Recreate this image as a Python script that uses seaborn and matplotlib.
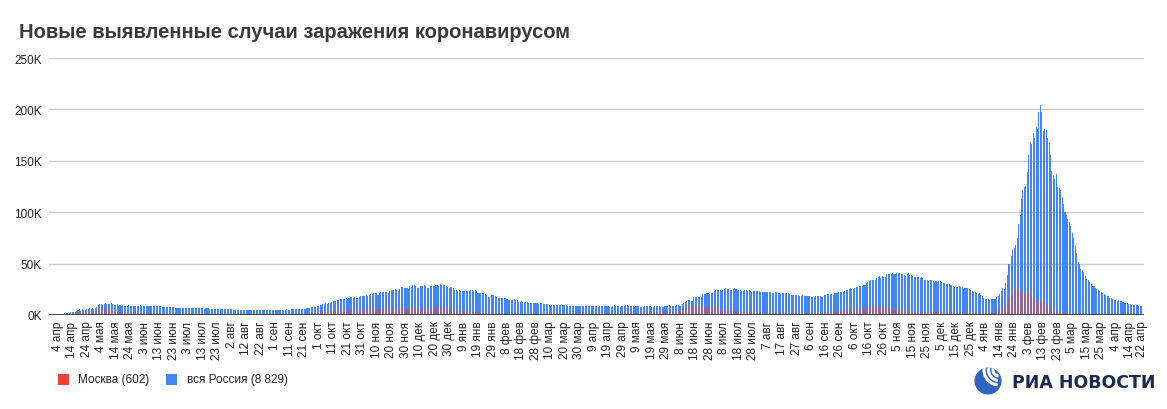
import numpy as np
import pandas as pd
import matplotlib
matplotlib.use("Agg")
import matplotlib.pyplot as plt
import seaborn as sns
from matplotlib.patches import Circle, Arc, Rectangle

# ---------------- data (thousands of new cases per day, from 4 Apr 2020) ----------------
russia_2020 = [
    # Apr 4-30
    0.6,0.7,1.0,1.2,1.2,1.5,1.8,1.7,2.2,2.6, 2.8,3.4,3.4,4.1,4.8,6.1,4.3,5.6,5.2,4.8, 5.8,6.0,6.4,6.2,6.4,5.8,7.1,
    # May
    7.9,9.6,10.6,10.6,10.1,10.6,11.2,10.7,10.8,11.0, 11.7,10.9,10.0,10.0,10.6,9.2,9.7,8.9,9.3,8.8, 8.8,8.9,9.4,8.6,8.9,8.9,8.3,8.4,8.6,9.0, 9.3,
    # Jun
    9.0,8.9,8.5,8.8,8.7,8.9,9.0,9.0,8.6,8.4, 8.8,9.0,8.7,8.8,8.2,8.2,7.8,7.8,8.0,7.9, 7.7,7.6,7.4,7.2,7.1,6.8,6.9,6.8,6.7,6.7,
    # Jul
    6.6,6.8,6.7,6.6,6.7,6.6,6.4,6.6,6.5,6.6, 6.6,6.6,6.5,6.2,6.4,6.4,6.4,6.2,6.1,5.9, 5.8,5.9,5.8,5.8,5.9,5.8,5.6,5.5,5.4,5.5, 5.5,
    # Aug
    5.5,5.4,5.2,5.2,5.2,5.2,5.2,5.3,5.2,5.1, 4.9,5.1,5.1,5.1,5.1,5.0,4.8,4.7,4.8,4.8, 4.9,4.9,4.9,4.7,4.7,4.7,4.7,4.8,5.0,4.9, 4.7,
    # Sep
    4.7,5.0,5.0,5.1,5.2,5.2,5.2,5.1,5.4,5.2, 5.3,5.4,5.4,5.5,5.5,5.7,5.8,5.9,6.1,6.1, 6.2,6.2,6.4,6.6,7.2,7.5,7.9,8.1,8.2,8.5,
    # Oct
    8.9,9.4,9.9,10.5,10.9,11.6,11.1,11.5,12.1,12.8, 13.6,13.6,13.9,14.2,14.9,15.2,15.1,16.0,15.7,16.3, 16.0,16.5,17.3,17.3,16.7,17.3,16.6,16.2,17.7,18.3, 18.1,
    # Nov
    18.7,18.6,19.8,18.3,19.4,20.6,20.5,21.0,21.8,21.0, 19.9,21.6,22.0,22.7,22.8,22.6,21.9,21.0,23.6,24.3, 24.8,24.6,25.2,24.3,23.7,25.5,27.5,27.1,26.7,26.3,
    # Dec
    26.4,25.3,28.1,27.4,28.8,29.0,28.1,26.1,26.2,27.9, 28.6,28.1,29.4,28.1,26.7,26.5,27.8,28.2,28.2,28.6, 29.4,28.8,28.6,29.9,29.3,28.9,29.0,28.4,27.0,26.5, 27.7,
]
russia_2021 = [
    27.0,26.3,24.2,24.2,23.4,24.2,23.5,22.9,23.3,23.7, 23.3,22.9,23.4,24.8,24.1,23.6,24.7,22.9,21.7,21.2, 21.5,21.1,21.3,20.9,19.3,17.7,17.6,19.2,19.0,19.2, 18.4,
    17.6,16.6,16.5,16.7,16.7,16.6,16.6,15.9,14.9,14.5, 15.0,14.8,15.2,14.2,14.2,12.7,12.8,13.4,13.0,12.7, 12.6,12.3,11.5,11.7,11.2,11.5,11.4,11.6,
    11.4,10.6,11.4,11.3,10.6,10.9,10.6,10.4,9.4,9.1, 10.0,9.7,10.1,10.0,9.9,9.3,9.4,9.9,9.6,9.6, 9.4,9.2,8.5,8.8,9.1,9.0,9.1,9.0,8.3,8.3, 8.8,
    8.8,8.7,8.7,8.6,8.6,8.3,8.3,8.6,9.0,9.1, 8.7,8.2,8.4,8.7,8.9,9.0,8.7,8.8,8.7,8.1, 8.1,8.9,9.3,9.2,9.0,9.0,8.0,8.3,8.9,9.1,
    9.3,9.3,8.8,8.3,8.4,8.3,8.0,8.3,8.6,8.3, 8.0,8.2,8.2,8.8,8.8,8.8,8.6,8.4,8.2,8.2, 8.4,8.8,8.9,8.9,8.1,8.2,8.2,8.6,8.9,9.1, 9.3,
    9.0,9.0,9.0,8.9,9.3,9.6,9.0,9.1,10.4,11.6, 12.5,13.5,14.7,14.2,13.4,14.1,17.3,17.9,17.9,17.6, 17.4,17.6,20.2,20.2,20.5,21.7,21.0,20.5,21.0,21.0,
    23.5,24.4,24.4,24.4,24.1,23.6,24.7,25.1,25.8,25.1, 25.1,24.7,24.7,25.3,25.8,25.2,24.8,24.8,24.0,23.2, 23.7,24.5,24.3,23.8,24.1,23.3,22.4,23.3,23.6,23.3, 23.6,
    23.3,22.6,22.4,22.6,22.1,22.8,22.8,22.6,21.9,21.3, 21.6,21.9,22.3,21.8,21.6,20.8,21.1,21.1,21.0,21.0, 21.0,20.2,19.5,19.7,19.6,19.7,19.3,19.1,18.8,18.3, 19.2,
    18.6,18.8,18.6,18.9,18.8,17.9,17.6,17.9,18.1,18.4, 18.4,18.3,17.9,17.8,19.0,19.6,20.2,20.3,20.2,20.1, 19.7,21.4,21.4,21.6,22.0,22.4,22.2,22.4,23.1,23.9,
    24.5,25.0,25.8,25.1,25.1,26.0,27.4,27.2,28.0,28.6, 28.2,29.4,28.7,31.3,32.2,33.2,33.7,34.3,33.7,34.1, 36.3,37.1,37.7,35.7,37.9,36.6,37.0,40.1,40.0,39.8, 40.3,
    40.4,40.3,40.2,41.3,40.7,40.7,39.4,40.0,39.2,38.1, 40.2,40.6,39.2,39.3,38.1,36.8,36.7,37.4,37.2,36.0, 37.1,35.7,33.9,33.6,34.1,33.5,33.8,33.6,32.6,32.1,
    32.9,32.1,33.0,32.9,32.2,31.0,30.8,30.6,30.5,29.9, 29.0,29.4,28.5,27.3,27.5,27.7,27.8,27.1,27.0,25.1, 26.2,26.1,26.4,25.1,24.7,23.0,22.4,22.0,21.7,20.8, 21.4,
]
russia_2022 = [
    19.8,18.0,17.0,15.6,16.0,15.1,15.0,15.1,15.9,15.8, 15.8,17.2,18.2,20.3,23.1,25.9,25.1,31.3,38.9,49.5, 49.5,57.2,63.2,65.1,67.8,74.7,88.8,97.0,113.1,121.2, 124.1,
    125.8,138.9,155.8,168.2,166.6,177.3,171.9,183.1,180.5,197.1, 203.9,197.1,178.8,180.5,179.7,172.0,167.0,155.8,140.0,136.0, 132.0,137.0,125.0,124.0,122.0,115.0,108.0,100.0,
    97.0,93.0,90.0,87.0,80.0,75.0,68.0,60.0,52.0,50.0, 45.0,44.0,42.0,38.0,35.0,34.0,32.0,30.5,28.5,28.0, 26.5,25.0,24.0,23.5,22.5,21.0,20.0,19.5,18.8,18.0, 17.0,
    16.2,16.0,14.7,14.5,14.0,14.3,13.8,13.4,13.0,12.0, 11.7,11.8,11.0,10.3,10.0,9.8,9.5,9.3,9.4,9.2, 9.0,8.829,
]

moscow_2020 = [
    0.4,0.4,0.6,0.7,0.6,0.9,1.1,1.0,1.4,1.4, 1.5,1.8,1.8,2.2,2.6,3.6,2.1,3.1,2.6,2.3, 2.9,3.0,3.4,2.6,3.1,2.2,3.0,
    3.6,5.4,6.0,5.9,5.6,6.0,6.7,5.8,5.7,5.4, 5.6,4.7,3.6,3.0,3.3,2.7,3.0,2.7,3.0,2.6, 2.3,2.1,2.5,2.4,2.5,2.6,2.1,2.1,2.3,2.4, 2.3,
    2.0,2.0,1.8,1.8,1.6,1.6,1.6,1.6,1.6,1.5, 1.6,1.6,1.4,1.6,1.4,1.4,1.2,1.2,1.1,1.1, 1.1,1.0,1.0,0.9,0.9,0.7,0.7,0.7,0.7,0.7,
    0.6,0.6,0.6,0.6,0.6,0.6,0.6,0.6,0.6,0.6, 0.6,0.6,0.6,0.6,0.7,0.6,0.6,0.6,0.6,0.6, 0.7,0.7,0.7,0.7,0.7,0.7,0.6,0.7,0.7,0.7, 0.7,
    0.7,0.7,0.7,0.7,0.7,0.7,0.7,0.7,0.7,0.7, 0.7,0.7,0.7,0.7,0.7,0.7,0.7,0.6,0.7,0.7, 0.7,0.7,0.7,0.7,0.6,0.6,0.6,0.6,0.7,0.7, 0.7,
    0.7,0.7,0.7,0.7,0.7,0.7,0.7,0.6,0.7,0.7, 0.7,0.7,0.8,0.8,0.7,0.8,0.9,1.0,1.1,1.1, 1.0,1.0,1.2,1.5,1.8,2.1,2.3,2.2,2.1,2.3,
    2.4,2.8,3.3,3.5,3.2,3.2,3.3,3.7,4.1,4.3, 4.9,4.6,4.1,4.3,5.0,4.6,4.5,5.2,4.4,4.4, 4.2,4.2,5.2,5.2,5.2,4.0,3.6,4.1,4.8,5.0, 5.1,
    5.3,5.0,5.5,5.6,5.0,6.4,6.5,6.9,5.0,5.4, 5.6,5.9,5.8,5.7,5.7,5.5,6.2,6.4,6.4,7.2, 7.1,6.4,6.0,5.3,5.2,6.1,6.8,7.0,6.4,6.0,
    5.8,6.0,7.8,7.8,8.0,7.9,7.0,5.8,5.5,6.0, 6.4,6.8,6.5,6.0,5.5,5.2,5.6,5.6,5.2,6.7, 7.9,6.0,5.2,8.2,7.9,7.6,7.8,6.8,5.4,5.5, 5.7,
]
moscow_2021 = [
    5.5,5.0,4.0,3.9,4.0,3.7,3.9,4.0,3.6,3.6, 3.9,3.4,3.6,3.6,3.8,3.0,3.0,2.6,2.9,2.1, 2.0,2.0,2.0,2.1,1.9,1.5,1.5,1.9,2.0,1.9, 1.7,
    1.7,1.5,1.6,1.8,1.8,1.6,1.6,1.6,1.3,1.4, 1.7,1.6,1.6,1.5,1.4,1.3,1.3,1.5,1.4,1.3, 1.4,1.3,1.2,1.2,1.5,1.7,1.5,1.3,
    1.3,1.2,1.3,1.4,1.3,1.3,1.4,1.2,1.1,1.3, 1.4,1.3,1.3,1.2,1.3,1.0,1.3,1.4,1.3,1.3, 1.3,1.1,1.1,1.4,1.3,1.6,1.5,1.5,1.2,1.1, 1.5,
    1.6,1.6,1.7,1.6,1.4,1.4,1.6,1.9,2.0,1.7, 1.8,1.4,1.6,1.6,1.7,1.7,1.7,1.7,1.3,1.4, 1.8,2.1,2.1,1.9,1.9,1.6,1.5,1.7,2.1,2.6,
    2.7,2.6,2.0,2.0,2.0,2.2,2.1,2.2,2.0,2.0, 1.9,2.0,2.4,2.7,2.6,2.5,2.3,2.4,2.4,2.9, 3.0,3.1,3.1,2.9,2.7,2.8,3.0,3.0,3.0,3.1, 3.0,
    3.0,3.1,3.0,3.0,3.4,3.7,3.1,3.7,4.8,5.7, 6.7,7.7,9.1,8.1,7.7,8.9,9.0,9.1,9.1,8.6, 8.1,7.4,7.3,7.0,7.7,7.9,7.3,6.6,6.6,7.0,
    7.6,7.2,6.6,6.7,5.3,4.7,5.0,5.0,5.1,5.3, 4.2,3.8,3.8,3.6,3.5,3.6,3.5,3.2,3.1,3.0, 3.0,3.5,3.0,2.9,2.8,2.6,2.4,2.4,2.5,2.4, 2.4,
    2.4,2.1,1.9,2.0,2.0,2.1,2.2,2.2,1.9,1.8, 1.7,1.9,2.2,2.2,2.1,1.9,1.8,1.7,1.8,1.8, 1.9,1.8,1.6,1.6,1.6,1.7,1.7,1.6,1.6,1.5, 1.6,
    1.6,1.6,1.6,1.7,1.7,1.6,1.6,1.8,1.8,1.9, 2.1,2.1,1.8,1.9,2.2,2.6,2.7,2.9,2.7,2.7, 2.5,3.2,3.3,3.6,3.6,3.6,3.6,3.9,4.5,4.8,
    4.6,5.4,5.0,5.0,4.6,5.1,6.5,6.3,6.6,7.0, 6.7,6.7,5.9,7.4,7.5,7.8,7.8,8.1,7.8,7.4, 7.9,8.6,9.0,9.0,6.7,6.8,6.8,8.2,7.6,7.2, 6.9,
    5.4,5.3,5.3,5.4,5.5,5.1,4.8,4.7,4.3,3.6, 3.4,3.8,3.6,3.6,3.0,2.8,2.8,3.3,3.2,3.1, 3.0,2.5,2.4,2.9,3.0,3.0,3.0,2.9,2.5,2.5,
    2.5,2.5,2.7,2.7,2.7,2.3,2.3,2.4,2.5,2.4, 2.3,2.4,2.1,2.1,2.2,2.3,2.3,2.3,2.4,2.1, 2.2,2.3,2.3,2.3,2.2,2.1,2.0,2.2,2.2,2.2, 2.5,
]
moscow_2022 = [
    2.4,2.2,2.0,1.7,1.9,1.6,1.3,1.7,2.1,2.4, 2.9,3.6,4.3,5.1,6.0,7.0,8.2,9.0,11.7,15.6, 16.6,17.5,21.8,25.0,24.5,25.0,25.5,24.8,22.0,19.0, 21.8,
    25.0,26.8,24.5,22.0,18.2,17.5,16.0,14.5,13.0,12.5, 13.5,14.5,13.0,11.5,10.5,9.0,8.5,7.0,5.5,4.5, 4.0,3.8,3.5,3.0,2.8,2.5,2.5,2.4,
    2.4,2.3,2.3,2.2,2.0,1.9,1.8,1.8,1.7,1.7, 1.6,1.6,1.5,1.5,1.4,1.4,1.4,1.3,1.3,1.2, 1.2,1.2,1.1,1.1,1.1,1.0,1.0,1.0,1.0,0.9, 0.9,
    0.9,0.9,0.8,0.8,0.8,0.8,0.8,0.8,0.7,0.7, 0.7,0.7,0.7,0.7,0.7,0.6,0.6,0.6,0.6,0.6, 0.6,0.602,
]

start_date = "2020-04-04"
month_names = ["янв", "фев", "мар", "апр", "мая", "июн", "июл", "авг", "сен", "окт", "ноя", "дек"]
y_ticks = [0, 50, 100, 150, 200, 250]
y_labels = ["0K", "50K", "100K", "150K", "200K", "250K"]
title = "Новые выявленные случаи заражения коронавирусом"
legend_labels = ["Москва (602)", "вся Россия (8 829)"]

BLUE = "#4285f4"
RED = "#ea4335"

russia = russia_2020 + russia_2021 + russia_2022
moscow = moscow_2020 + moscow_2021 + moscow_2022
df = pd.DataFrame({"day": np.arange(len(russia)), "russia": russia})
dm = pd.DataFrame({"day": np.arange(len(moscow)), "moscow": moscow})
dates = pd.date_range(start_date, periods=len(russia), freq="D")

sns.set_theme(style="white")
plt.rcParams["font.family"] = ["Liberation Sans", "DejaVu Sans"]

W, H = 1167, 410
fig = plt.figure(figsize=(W / 100, H / 100), dpi=100)
fig.patch.set_facecolor("white")
x0, x1, ytop, ybot = 49, 1144, 59, 316
ax = fig.add_axes([x0 / W, 1 - ybot / H, (x1 - x0) / W, (ybot - ytop) / H])

sns.barplot(data=df, x="day", y="russia", native_scale=True, color=BLUE, saturation=1,
            width=0.72, errorbar=None, ax=ax, linewidth=0)
sns.barplot(data=dm, x="day", y="moscow", native_scale=True, color=RED, saturation=1,
            width=0.72, errorbar=None, ax=ax, linewidth=0, alpha=0.5)

ax.set_xlim(-6, len(russia) + 0.5)
ax.set_ylim(0, 250)
ax.set_axisbelow(True)
ax.yaxis.grid(True, color="#cccccc", linewidth=1)
ax.xaxis.grid(False)
for s in ax.spines.values():
    s.set_visible(False)
ax.axhline(0, color="#333333", linewidth=1.2, zorder=5)

tick_days = list(range(0, len(russia) - 8, 10)) + [len(russia) - 1]
tick_labels = [f"{dates[d].day} {month_names[dates[d].month - 1]}" for d in tick_days]
ax.set_xticks(tick_days)
ax.set_xticklabels(tick_labels, rotation=90, fontsize=8.5, color="#222222")
ax.set_yticks(y_ticks)
ax.set_yticklabels(y_labels, fontsize=8.5, color="#222222")
ax.tick_params(axis="x", length=0, pad=4)
ax.tick_params(axis="y", length=0, pad=5)
ax.set_xlabel("")
ax.set_ylabel("")

# overlay in pixel coordinates for title, legend and logo
ov = fig.add_axes([0, 0, 1, 1], zorder=10)
ov.set_xlim(0, W)
ov.set_ylim(H, 0)
ov.axis("off")
ov.patch.set_alpha(0)

ov.text(19, 38, title, fontsize=14.5, fontweight="bold", color="#3a3a3a", va="baseline", ha="left")

ov.add_patch(Rectangle((57.5, 374.5), 11, 11, color=RED, linewidth=0))
ov.text(78, 380.5, legend_labels[0], fontsize=8.5, color="#222222", va="center", ha="left")
ov.add_patch(Rectangle((166, 374.5), 11, 11, color=BLUE, linewidth=0))
ov.text(187, 380.5, legend_labels[1], fontsize=8.5, color="#222222", va="center", ha="left")

# RIA Novosti logo
cx, cy, r = 988, 382, 13.5
emb = Circle((cx, cy), r, color="#2f63c0", linewidth=0)
ov.add_patch(emb)
for rr in (6, 10.5, 15):
    a = Arc((cx + 11, cy - 11), 2 * rr, 2 * rr, theta1=95, theta2=265, color="white", linewidth=2.2)
    ov.add_patch(a)
    a.set_clip_path(emb)
ov.text(1012, 383, "РИА НОВОСТИ", fontsize=12.5, fontweight="bold", color="#1a2b50",
        family=["DejaVu Sans"], va="center", ha="left")

fig.savefig("out.png", dpi=100, facecolor="white")
